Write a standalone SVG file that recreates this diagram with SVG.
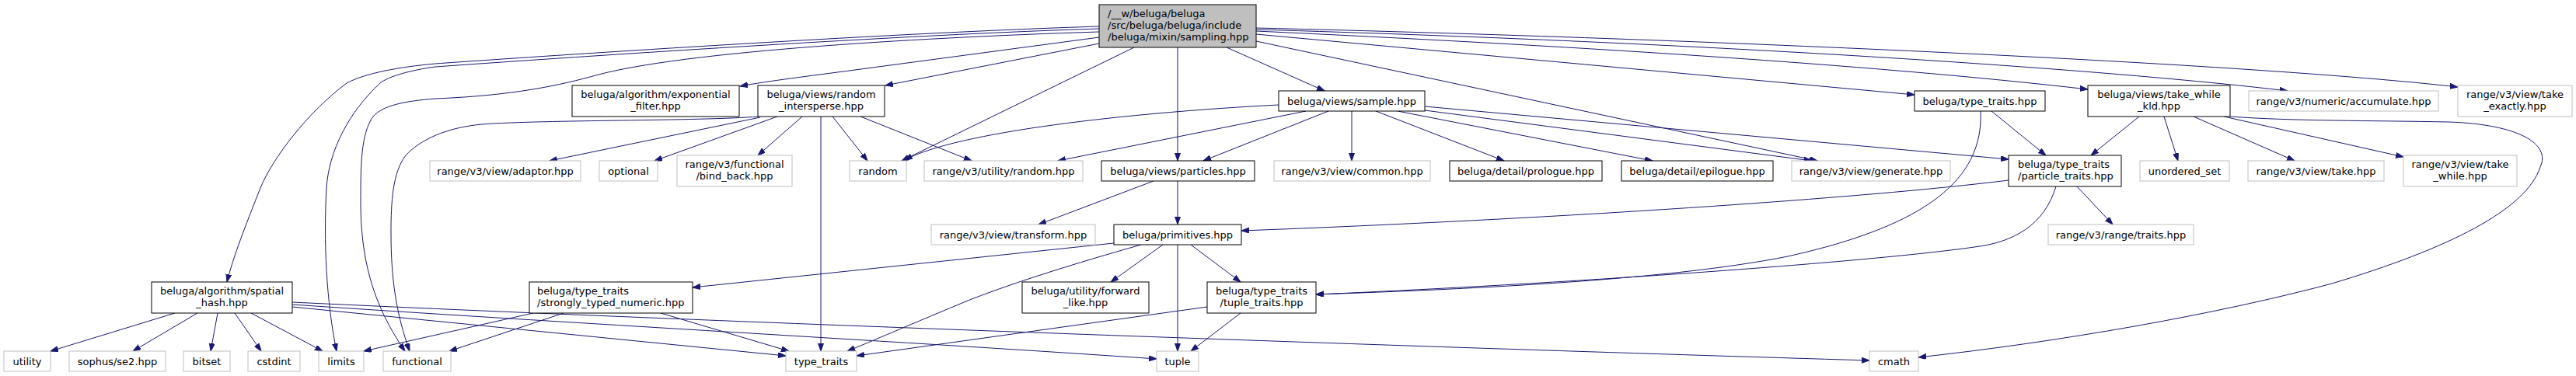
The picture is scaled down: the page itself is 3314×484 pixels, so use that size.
<svg xmlns="http://www.w3.org/2000/svg" width="3314" height="484" viewBox="0 0 3314 484">
<style>
text{font-family:"DejaVu Sans","Liberation Sans",sans-serif;font-size:13px;fill:#000}
.m{text-anchor:middle}
.n rect{fill:#fff;stroke:#000;stroke-width:1}
.x rect{fill:#fff;stroke:#bfbfbf;stroke-width:1}
.r rect{fill:#bfbfbf;stroke:#000;stroke-width:1}
#edges path{fill:none;stroke:#191970;stroke-width:1;marker-end:url(#a)}
</style>
<defs>
<marker id="a" markerWidth="12" markerHeight="9" refX="10" refY="3.5" orient="auto" markerUnits="userSpaceOnUse"><path d="M0,0 L10,3.5 L0,7 z" fill="#191970" stroke="#191970" stroke-width="1"/></marker>
</defs>
<rect width="3314" height="484" fill="#fff"/>
<g id="edges">
<path d="M1414,34 C1150,42 700,72 560,82 C515,86 470,94 446,107 C395,145 350,205 335,242 C318,285 300,330 292,363"/>
<path d="M1414,37 C1150,45 700,76 560,86 C530,90 500,98 489,107 C448,145 423,195 420,242 C416,310 420,390 433,452"/>
<path d="M1414,41 C1250,46 900,62 770,96 C720,110 660,123 560,127 C520,130 492,136 480,150 C464,172 464,215 464,260 C464,330 478,390 521,452"/>
<path d="M1414,48 L1100,90 C1040,98 990,104 952,111"/>
<path d="M1414,56 L1139,110"/>
<path d="M1459,61 L1160,207"/>
<path d="M1515,61 L1515,207"/>
<path d="M1578,61 L1704,117"/>
<path d="M1616,53 L2338,207"/>
<path d="M1616,44 L2463,122"/>
<path d="M1616,40 C2000,58 2400,82 2686,115"/>
<path d="M1616,38 C2200,55 2700,88 2943,117"/>
<path d="M1616,36 C2200,50 2900,82 3162,112"/>
<path d="M976,150 C900,156 700,154 620,160 C575,164 540,180 522,200 C505,222 503,260 503,300 C503,360 510,405 527,452"/>
<path d="M978,151 L707,207"/>
<path d="M1000,150 L842,207"/>
<path d="M1032,150 L975,200"/>
<path d="M1056,150 L1056,452"/>
<path d="M1071,150 L1116,207"/>
<path d="M1107,150 L1250,207"/>
<path d="M1645,135 C1450,145 1230,170 1164,206"/>
<path d="M1680,143 L1361,207"/>
<path d="M1709,143 L1548,207"/>
<path d="M1739,143 L1739,207"/>
<path d="M1770,143 L1935,207"/>
<path d="M1798,143 L2126,207"/>
<path d="M1833,142 L2331,207"/>
<path d="M1833,137 L2584,205"/>
<path d="M2562,143 L2632,200"/>
<path d="M2548,143 C2552,230 2480,290 2300,330 C2150,360 1900,372 1693,379"/>
<path d="M2584,232 C2400,255 2000,282 1597,297"/>
<path d="M2645,240 C2630,290 2590,312 2540,318 C2400,338 2000,366 1693,379"/>
<path d="M2672,240 L2718,289"/>
<path d="M2752,150 L2690,200"/>
<path d="M2784,150 L2802,207"/>
<path d="M2822,150 L2952,207"/>
<path d="M2861,150 L3092,202"/>
<path d="M2869,150 C2950,156 3050,155 3150,157 C3240,160 3282,185 3268,215 C3250,270 3150,320 3000,365 C2850,405 2650,440 2468,460"/>
<path d="M1484,233 L1336,289"/>
<path d="M1515,233 L1515,289"/>
<path d="M1433,313 L891,370"/>
<path d="M1468,315 C1380,340 1310,362 1250,385 C1170,418 1120,440 1090,452"/>
<path d="M1496,315 L1429,363"/>
<path d="M1515,315 L1515,452"/>
<path d="M1532,315 L1596,363"/>
<path d="M1596,403 L1532,452"/>
<path d="M1553,395 L1102,458"/>
<path d="M225,403 L65,452"/>
<path d="M254,403 L171,452"/>
<path d="M280,403 L271,452"/>
<path d="M302,403 L336,452"/>
<path d="M323,403 L415,452"/>
<path d="M376,395 L1011,458"/>
<path d="M376,392 C700,414 1200,442 1488,462"/>
<path d="M376,389 C900,414 1800,446 2405,464"/>
<path d="M686,403 L468,452"/>
<path d="M725,403 L578,452"/>
<path d="M850,403 L1015,452"/>
</g>
<g id="root" class="r"><rect x="1414" y="6" width="202" height="55"/><text x="1425" y="22">/__w/beluga/beluga</text><text x="1425" y="37">/src/beluga/beluga/include</text><text x="1425" y="52">/beluga/mixin/sampling.hpp</text></g>
<g id="exp_filter" class="n"><rect x="736" y="110" width="215" height="40"/><text class="m" x="843.5" y="126">beluga/algorithm/exponential</text><text class="m" x="843.5" y="141">_filter.hpp</text></g>
<g id="random_intersperse" class="n"><rect x="975" y="110" width="163" height="40"/><text class="m" x="1056.5" y="126">beluga/views/random</text><text class="m" x="1056.5" y="141">_intersperse.hpp</text></g>
<g id="sample" class="n"><rect x="1645" y="117" width="188" height="26"/><text class="m" x="1739" y="134.5">beluga/views/sample.hpp</text></g>
<g id="beluga_type_traits" class="n"><rect x="2463" y="117" width="168" height="26"/><text class="m" x="2547" y="134.5">beluga/type_traits.hpp</text></g>
<g id="take_while_kld" class="n"><rect x="2686" y="110" width="183" height="40"/><text class="m" x="2777.5" y="126">beluga/views/take_while</text><text class="m" x="2777.5" y="141">_kld.hpp</text></g>
<g id="accumulate" class="x"><rect x="2893" y="117" width="244" height="26"/><text class="m" x="3015" y="134.5">range/v3/numeric/accumulate.hpp</text></g>
<g id="take_exactly" class="x"><rect x="3162" y="110" width="147" height="40"/><text class="m" x="3235.5" y="126">range/v3/view/take</text><text class="m" x="3235.5" y="141">_exactly.hpp</text></g>
<g id="adaptor" class="x"><rect x="553" y="207" width="194" height="26"/><text class="m" x="650" y="224.5">range/v3/view/adaptor.hpp</text></g>
<g id="optional" class="x"><rect x="771" y="207" width="75" height="26"/><text class="m" x="808.5" y="224.5">optional</text></g>
<g id="bind_back" class="x"><rect x="871" y="200" width="148" height="40"/><text class="m" x="945" y="215.5">range/v3/functional</text><text class="m" x="945" y="230.5">/bind_back.hpp</text></g>
<g id="random" class="x"><rect x="1093" y="207" width="73" height="26"/><text class="m" x="1129.5" y="224.5">random</text></g>
<g id="utility_random" class="x"><rect x="1189" y="207" width="204" height="26"/><text class="m" x="1291" y="224.5">range/v3/utility/random.hpp</text></g>
<g id="particles" class="n"><rect x="1417" y="207" width="197" height="26"/><text class="m" x="1515.5" y="224.5">beluga/views/particles.hpp</text></g>
<g id="common" class="x"><rect x="1639" y="207" width="201" height="26"/><text class="m" x="1739.5" y="224.5">range/v3/view/common.hpp</text></g>
<g id="prologue" class="n"><rect x="1865" y="207" width="196" height="26"/><text class="m" x="1963" y="224.5">beluga/detail/prologue.hpp</text></g>
<g id="epilogue" class="n"><rect x="2086" y="207" width="195" height="26"/><text class="m" x="2183.5" y="224.5">beluga/detail/epilogue.hpp</text></g>
<g id="generate" class="x"><rect x="2305" y="207" width="204" height="26"/><text class="m" x="2407" y="224.5">range/v3/view/generate.hpp</text></g>
<g id="particle_traits" class="n"><rect x="2584" y="200" width="145" height="40"/><text x="2596" y="215.5">beluga/type_traits</text><text x="2596" y="230.5">/particle_traits.hpp</text></g>
<g id="unordered_set" class="x"><rect x="2753" y="207" width="115" height="26"/><text class="m" x="2810.5" y="224.5">unordered_set</text></g>
<g id="take" class="x"><rect x="2892" y="207" width="175" height="26"/><text class="m" x="2979.5" y="224.5">range/v3/view/take.hpp</text></g>
<g id="take_while" class="x"><rect x="3092" y="200" width="146" height="40"/><text class="m" x="3165" y="215.5">range/v3/view/take</text><text class="m" x="3165" y="230.5">_while.hpp</text></g>
<g id="transform" class="x"><rect x="1198" y="289" width="211" height="26"/><text class="m" x="1303.5" y="306.5">range/v3/view/transform.hpp</text></g>
<g id="primitives" class="n"><rect x="1433" y="289" width="164" height="26"/><text class="m" x="1515" y="306.5">beluga/primitives.hpp</text></g>
<g id="range_traits" class="x"><rect x="2635" y="289" width="187" height="26"/><text class="m" x="2728.5" y="306.5">range/v3/range/traits.hpp</text></g>
<g id="spatial_hash" class="n"><rect x="195" y="363" width="181" height="40"/><text class="m" x="285.5" y="379">beluga/algorithm/spatial</text><text class="m" x="285.5" y="394">_hash.hpp</text></g>
<g id="strongly_typed" class="n"><rect x="681" y="363" width="210" height="40"/><text x="691" y="379">beluga/type_traits</text><text x="691" y="394">/strongly_typed_numeric.hpp</text></g>
<g id="forward_like" class="n"><rect x="1315" y="363" width="163" height="40"/><text class="m" x="1396.5" y="379">beluga/utility/forward</text><text class="m" x="1396.5" y="394">_like.hpp</text></g>
<g id="tuple_traits" class="n"><rect x="1553" y="363" width="140" height="40"/><text class="m" x="1623" y="379">beluga/type_traits</text><text class="m" x="1623" y="394">/tuple_traits.hpp</text></g>
<g id="utility" class="x"><rect x="5" y="452" width="60" height="26"/><text class="m" x="35" y="469.5">utility</text></g>
<g id="sophus" class="x"><rect x="89" y="452" width="124" height="26"/><text class="m" x="151" y="469.5">sophus/se2.hpp</text></g>
<g id="bitset" class="x"><rect x="236" y="452" width="60" height="26"/><text class="m" x="266" y="469.5">bitset</text></g>
<g id="cstdint" class="x"><rect x="319" y="452" width="67" height="26"/><text class="m" x="352.5" y="469.5">cstdint</text></g>
<g id="limits" class="x"><rect x="410" y="452" width="58" height="26"/><text class="m" x="439" y="469.5">limits</text></g>
<g id="functional" class="x"><rect x="493" y="452" width="87" height="26"/><text class="m" x="536.5" y="469.5">functional</text></g>
<g id="type_traits" class="x"><rect x="1011" y="452" width="91" height="26"/><text class="m" x="1056.5" y="469.5">type_traits</text></g>
<g id="tuple" class="x"><rect x="1488" y="452" width="54" height="26"/><text class="m" x="1515" y="469.5">tuple</text></g>
<g id="cmath" class="x"><rect x="2405" y="452" width="63" height="26"/><text class="m" x="2436.5" y="469.5">cmath</text></g>
</svg>
